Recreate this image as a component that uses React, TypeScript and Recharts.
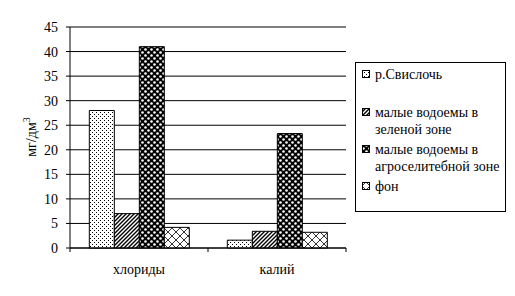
import React from 'react';
import { BarChart, Bar, XAxis, YAxis, CartesianGrid } from 'recharts';

const categories = ['хлориды', 'калий'];
const svisloch = [28, 1.6];
const greenZone = [7, 3.4];
const agroZone = [41, 23.3];
const background = [4.2, 3.2];
const yTicks = [0, 5, 10, 15, 20, 25, 30, 35, 40, 45];

const seriesNames = [
  'р.Свислочь',
  'малые водоемы в зеленой зоне',
  'малые водоемы в агроселитебной зоне',
  'фон',
];
const patternIds = ['pDots', 'pStripes', 'pCircles', 'pCross'];

const data = categories.map((name, i) => ({
  name,
  s0: svisloch[i],
  s1: greenZone[i],
  s2: agroZone[i],
  s3: background[i],
}));

const FONT = "'Liberation Serif', 'Times New Roman', serif";

const Patterns = () => (
  <defs>
    <pattern id="pDots" patternUnits="userSpaceOnUse" width="4" height="4">
      <rect width="4" height="4" fill="#fff" />
      <rect x="0" y="0" width="1" height="1" fill="#000" />
      <rect x="2" y="2" width="1" height="1" fill="#000" />
    </pattern>
    <pattern id="pStripes" patternUnits="userSpaceOnUse" width="4" height="4">
      <rect width="4" height="4" fill="#fff" />
      <path d="M-1,1 L1,-1 M0,4 L4,0 M3,5 L5,3" stroke="#000" strokeWidth="1.4" />
    </pattern>
    <pattern id="pCircles" patternUnits="userSpaceOnUse" width="6" height="6">
      <rect width="6" height="6" fill="#000" />
      <circle cx="1.5" cy="1.5" r="1.3" fill="#fff" />
      <circle cx="4.5" cy="4.5" r="1.3" fill="#fff" />
    </pattern>
    <pattern id="pCross" patternUnits="userSpaceOnUse" width="8" height="8">
      <rect width="8" height="8" fill="#fff" />
      <path d="M0,0 L8,8 M8,0 L0,8" stroke="#000" strokeWidth="0.8" />
    </pattern>
  </defs>
);

const legendLines = [
  ['р.Свислочь'],
  ['малые водоемы в', 'зеленой зоне'],
  ['малые водоемы в', 'агроселитебной зоне'],
  ['фон'],
];

// legend drawn as a plain box next to the chart, like the original
const LegendBox = () => (
  <div
    style={{
      position: 'absolute',
      left: 355,
      top: 62,
      width: 151,
      height: 150,
      boxSizing: 'border-box',
      border: '1px solid #000',
      background: '#fff',
      fontFamily: FONT,
      fontSize: 14,
      lineHeight: '17px',
      color: '#000',
      padding: '3px 0 0 6px',
    }}
  >
    {legendLines.map((lines, i) => (
      <div key={i} style={{ display: 'flex', marginBottom: i === 0 ? 21 : 3 }}>
        <svg width="10" height="17" style={{ flex: 'none', marginRight: 3 }}>
          <rect x="0.5" y="4.5" width="7" height="7" fill={`url(#${patternIds[i]})`} stroke="#000" />
        </svg>
        <div>
          {lines.map((l, j) => (
            <div key={j} style={{ whiteSpace: 'nowrap' }}>{l}</div>
          ))}
        </div>
      </div>
    ))}
  </div>
);

const XTick = (props: any) => {
  const { x, y, payload, index } = props;
  const off = payload.offset || 0;
  return (
    <g>
      <line x1={x - off} x2={x - off} y1={y} y2={y + 4} stroke="#000" />
      {index === categories.length - 1 && (
        <line x1={x + off} x2={x + off} y1={y} y2={y + 4} stroke="#000" />
      )}
      <text x={x} y={y + 26} textAnchor="middle" fontFamily={FONT} fontSize={14} fill="#000">
        {payload.value}
      </text>
    </g>
  );
};

const YLabel = () => (
  <text
    transform="translate(36,137) rotate(-90)"
    textAnchor="middle"
    fontFamily={FONT}
    fontSize={14}
    fill="#000"
  >
    мг/дм
    <tspan dy={-6} fontSize={10}>3</tspan>
  </text>
);

export default function App() {
  return (
    <div style={{ position: 'absolute', left: 0, top: 0, width: 515, height: 296, background: '#fff' }}>
      <BarChart
        width={515}
        height={296}
        data={data}
        margin={{ top: 27, right: 169, bottom: 18, left: 40 }}
        barCategoryGap="14%"
        barGap={0}
      >
        <Patterns />
        <CartesianGrid vertical={false} stroke="#000" />
        <XAxis
          dataKey="name"
          height={30}
          axisLine={{ stroke: '#000' }}
          tickLine={false}
          tickSize={0}
          tickMargin={0}
          tick={<XTick />}
          interval={0}
        />
        <XAxis xAxisId="top" orientation="top" dataKey="name" height={0} tick={false} tickLine={false} axisLine={{ stroke: '#808080' }} />
        <YAxis
          width={30}
          domain={[0, 45]}
          ticks={yTicks}
          interval={0}
          axisLine={{ stroke: '#000' }}
          tickLine={{ stroke: '#000' }}
          tickSize={4}
          tickMargin={8}
          tick={{ fontFamily: FONT, fontSize: 14, fill: '#000' }}
        />
        <YAxis yAxisId="right" orientation="right" width={0} tick={false} tickLine={false} axisLine={{ stroke: '#808080' }} />
        {['s0', 's1', 's2', 's3'].map((k, i) => (
          <Bar
            key={k}
            dataKey={k}
            name={seriesNames[i]}
            fill={`url(#${patternIds[i]})`}
            stroke="#000"
            strokeWidth={1}
            isAnimationActive={false}
          />
        ))}
        <YLabel />
      </BarChart>
      <LegendBox />
    </div>
  );
}
